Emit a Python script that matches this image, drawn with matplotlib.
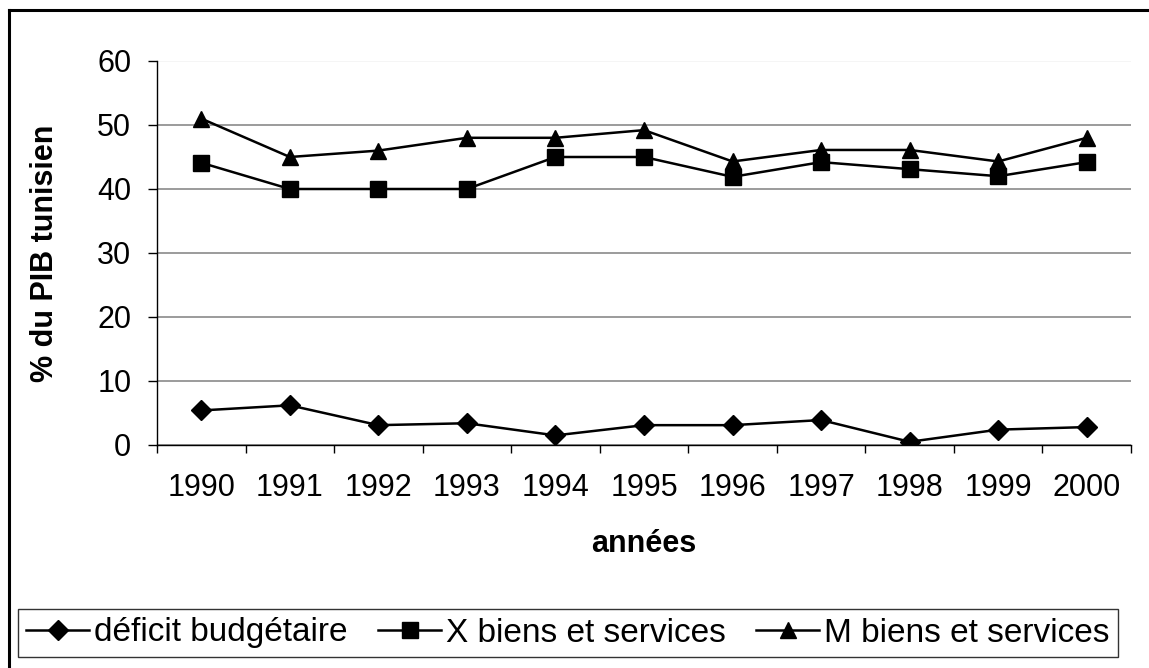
import numpy as np
import matplotlib
matplotlib.use('Agg')
import matplotlib.pyplot as plt
from matplotlib.lines import Line2D

# values (% du PIB)
years = ['1990', '1991', '1992', '1993', '1994', '1995', '1996', '1997', '1998', '1999', '2000']
deficit = [5.4, 6.2, 3.1, 3.4, 1.5, 3.1, 3.1, 3.9, 0.5, 2.4, 2.8]
x_biens = [44.1, 40.0, 40.0, 40.0, 45.0, 45.0, 41.9, 44.2, 43.1, 42.0, 44.2]
m_biens = [51.0, 45.0, 46.0, 48.0, 48.0, 49.2, 44.3, 46.1, 46.1, 44.3, 48.0]
labels = ['déficit budgétaire', 'X biens et services', 'M biens et services']
yticks = [0, 10, 20, 30, 40, 50, 60]

plt.rcParams['font.family'] = ['Liberation Sans', 'DejaVu Sans']

fig = plt.figure(figsize=(11.49, 6.68), dpi=100)
ax = fig.add_axes([157/1149, 1-445/668, (1131-157)/1149, (445-61)/668])

pos = np.arange(len(years))
ax.plot(pos, deficit, color='black', lw=1.8, marker='D', ms=10, label=labels[0])
ax.plot(pos, x_biens, color='black', lw=1.8, marker='s', ms=11, label=labels[1])
ax.plot(pos, m_biens, color='black', lw=1.8, marker='^', ms=12, label=labels[2])

ax.set_xlim(-0.5, len(years) - 0.5)
ax.set_ylim(0, 60)
ax.set_yticks(yticks)
ax.tick_params(axis='y', labelsize=22, length=6.5, width=1, pad=12)

# category ticks between years, labels centred
ax.set_xticks(np.arange(-0.5, len(years), 1.0))
ax.set_xticklabels([])
ax.set_xticks(pos, minor=True)
ax.set_xticklabels(years, minor=True)
ax.tick_params(axis='x', which='major', length=6, width=1)
ax.tick_params(axis='x', which='minor', length=0, labelsize=22, pad=20)

ax.yaxis.grid(True, color='#808080', lw=1.1)
ax.get_ygridlines()[-1].set_color('#f2f2f2')
ax.set_axisbelow(True)
for s in ['top', 'right']:
    ax.spines[s].set_visible(False)
ax.spines['left'].set_linewidth(1)
ax.spines['bottom'].set_linewidth(1)

ax.set_ylabel('% du PIB tunisien', fontsize=22, fontweight='bold')
ax.yaxis.set_label_coords(-0.1, 0.5)
ax.set_xlabel('années', fontsize=22, fontweight='bold')
ax.xaxis.set_label_coords(0.5, -0.22)

leg = fig.legend(loc='center', bbox_to_anchor=(568/1149, 1-633/668), ncol=3,
                 fontsize=24, frameon=True, fancybox=False, edgecolor='black',
                 handlelength=1.9, handletextpad=0.15, columnspacing=0.9,
                 borderpad=0.25, borderaxespad=0)
leg.get_frame().set_linewidth(1)

# outer frame (only top and left edges visible)
fig.add_artist(Line2D([9/1149, 1], [1-10/668, 1-10/668], color='black', lw=2.2,
                      transform=fig.transFigure))
fig.add_artist(Line2D([9/1149, 9/1149], [0, 1-10/668], color='black', lw=2.2,
                      transform=fig.transFigure))

fig.savefig('out.png', dpi=100)
